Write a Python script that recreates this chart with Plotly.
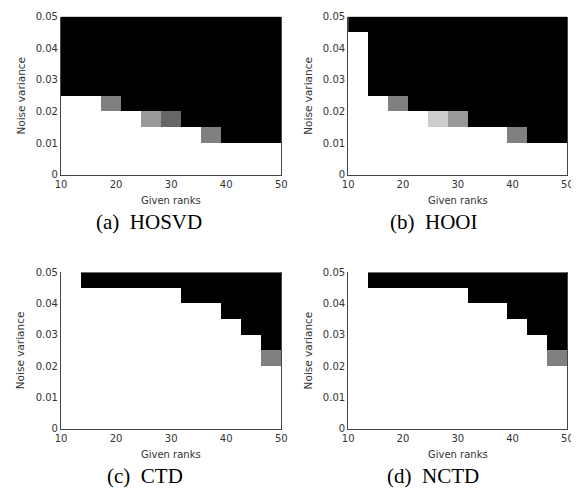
import numpy as np
import plotly.graph_objects as go

# ---- data ----
ranks = [10, 14, 18, 22, 26, 30, 34, 38, 42, 46, 50]          # 11 columns
noise = [0.005, 0.010, 0.015, 0.020, 0.025, 0.030, 0.035, 0.040, 0.045, 0.050]  # 10 rows

# rows listed bottom (low noise) to top; 1 = white, 0 = black
hosvd = [
    [1, 1, 1, 1, 1, 1, 1, 1, 1, 1, 1],
    [1, 1, 1, 1, 1, 1, 1, 1, 1, 1, 1],
    [1, 1, 1, 1, 1, 1, 1, 0.5, 0, 0, 0],
    [1, 1, 1, 1, 0.6, 0.4, 0, 0, 0, 0, 0],
    [1, 1, 0.5, 0, 0, 0, 0, 0, 0, 0, 0],
    [0, 0, 0, 0, 0, 0, 0, 0, 0, 0, 0],
    [0, 0, 0, 0, 0, 0, 0, 0, 0, 0, 0],
    [0, 0, 0, 0, 0, 0, 0, 0, 0, 0, 0],
    [0, 0, 0, 0, 0, 0, 0, 0, 0, 0, 0],
    [0, 0, 0, 0, 0, 0, 0, 0, 0, 0, 0],
]
hooi = [
    [1, 1, 1, 1, 1, 1, 1, 1, 1, 1, 1],
    [1, 1, 1, 1, 1, 1, 1, 1, 1, 1, 1],
    [1, 1, 1, 1, 1, 1, 1, 1, 0.5, 0, 0],
    [1, 1, 1, 1, 0.8, 0.6, 0, 0, 0, 0, 0],
    [1, 1, 0.5, 0, 0, 0, 0, 0, 0, 0, 0],
    [1, 0, 0, 0, 0, 0, 0, 0, 0, 0, 0],
    [1, 0, 0, 0, 0, 0, 0, 0, 0, 0, 0],
    [1, 0, 0, 0, 0, 0, 0, 0, 0, 0, 0],
    [1, 0, 0, 0, 0, 0, 0, 0, 0, 0, 0],
    [0, 0, 0, 0, 0, 0, 0, 0, 0, 0, 0],
]
ctd = [
    [1, 1, 1, 1, 1, 1, 1, 1, 1, 1, 1],
    [1, 1, 1, 1, 1, 1, 1, 1, 1, 1, 1],
    [1, 1, 1, 1, 1, 1, 1, 1, 1, 1, 1],
    [1, 1, 1, 1, 1, 1, 1, 1, 1, 1, 1],
    [1, 1, 1, 1, 1, 1, 1, 1, 1, 1, 0.5],
    [1, 1, 1, 1, 1, 1, 1, 1, 1, 1, 0],
    [1, 1, 1, 1, 1, 1, 1, 1, 1, 0, 0],
    [1, 1, 1, 1, 1, 1, 1, 1, 0, 0, 0],
    [1, 1, 1, 1, 1, 1, 0, 0, 0, 0, 0],
    [1, 0, 0, 0, 0, 0, 0, 0, 0, 0, 0],
]
nctd = [
    [1, 1, 1, 1, 1, 1, 1, 1, 1, 1, 1],
    [1, 1, 1, 1, 1, 1, 1, 1, 1, 1, 1],
    [1, 1, 1, 1, 1, 1, 1, 1, 1, 1, 1],
    [1, 1, 1, 1, 1, 1, 1, 1, 1, 1, 1],
    [1, 1, 1, 1, 1, 1, 1, 1, 1, 1, 0.5],
    [1, 1, 1, 1, 1, 1, 1, 1, 1, 1, 0],
    [1, 1, 1, 1, 1, 1, 1, 1, 1, 0, 0],
    [1, 1, 1, 1, 1, 1, 1, 1, 0, 0, 0],
    [1, 1, 1, 1, 1, 1, 0, 0, 0, 0, 0],
    [1, 0, 0, 0, 0, 0, 0, 0, 0, 0, 0],
]
captions = ["(a)\u00a0\u00a0HOSVD", "(b)\u00a0\u00a0HOOI", "(c)\u00a0\u00a0CTD", "(d)\u00a0\u00a0NCTD"]
x_ticks = [10, 20, 30, 40, 50]
y_ticks = [0, 0.01, 0.02, 0.03, 0.04, 0.05]
y_ticklabels = ["0", "0.01", "0.02", "0.03", "0.04", "0.05"]

# ---- layout geometry (page pixels; page body has an 8px margin) ----
PAGE_W, PAGE_H = 579, 502
OFF = 8
W, H = PAGE_W - OFF, PAGE_H - 2 * OFF
panels = [
    dict(z=hosvd, x0=56, x1=281, y0=11.7, y1=173.3, cap_x=146, cap_y=221),
    dict(z=hooi, x0=349.3, x1=573.3, y0=11.7, y1=173.3, cap_x=436, cap_y=221),
    dict(z=ctd, x0=56, x1=281, y0=272.7, y1=432.3, cap_x=142, cap_y=481),
    dict(z=nctd, x0=349.3, x1=573.3, y0=272.7, y1=432.3, cap_x=436, cap_y=481),
]


def px(x):
    return (x - OFF) / W


def py(y):
    return 1 - (y - OFF) / H


# cell edges span the rank range and noise range evenly
x_edges = np.linspace(min(ranks), max(ranks), len(ranks) + 1)
y_edges = np.linspace(0, max(noise), len(noise) + 1)

fig = go.Figure()
tick_font = dict(family="DejaVu Sans", size=10, color="#333")
annotations = []
for i, p in enumerate(panels):
    k = "" if i == 0 else str(i + 1)
    fig.add_trace(go.Heatmap(
        z=p["z"], x=x_edges, y=y_edges,
        colorscale=[[0, "black"], [1, "white"]], zmin=0, zmax=1,
        showscale=False, xaxis="x" + k, yaxis="y" + k, hoverinfo="skip",
    ))
    xd = [px(p["x0"]), min(1.0, px(p["x1"]))]
    yd = [py(p["y1"]), py(p["y0"])]
    fig.layout["xaxis" + k] = dict(
        domain=xd, range=[10, 50], anchor="y" + k, tickvals=x_ticks,
        showgrid=False, zeroline=False, showline=True, linecolor="#444",
        linewidth=1, ticks="", tickfont=tick_font, ticklabeloverflow="allow",
    )
    fig.layout["yaxis" + k] = dict(
        domain=yd, range=[0, 0.05], anchor="x" + k, tickvals=y_ticks,
        ticktext=y_ticklabels, showgrid=False, zeroline=False, showline=True,
        mirror=True, linecolor="#444", linewidth=1, ticks="", tickfont=tick_font,
        ticklabeloverflow="allow",
    )
    annotations.append(dict(
        text="Given ranks", x=px((p["x0"] + p["x1"]) / 2), y=py(p["y1"] + 26),
        xref="paper", yref="paper", showarrow=False, xanchor="center", yanchor="middle",
        font=dict(family="DejaVu Sans", size=10, color="#333"),
    ))
    annotations.append(dict(
        text="Noise variance", x=px(p["x0"] - 41), y=py((p["y0"] + p["y1"]) / 2),
        xref="paper", yref="paper", showarrow=False, textangle=-90,
        xanchor="center", yanchor="middle",
        font=dict(family="DejaVu Sans", size=10.5, color="#333"),
    ))
    annotations.append(dict(
        text=captions[i], x=px(p["cap_x"]), y=py(p["cap_y"]),
        xref="paper", yref="paper", showarrow=False, xanchor="center", yanchor="middle",
        font=dict(family="Liberation Serif", size=21, color="black"),
    ))

fig.update_layout(
    width=W, height=H, margin=dict(l=0, r=0, t=0, b=0),
    paper_bgcolor="white", plot_bgcolor="white",
    annotations=annotations, showlegend=False,
)
fig.write_html("out.html")
